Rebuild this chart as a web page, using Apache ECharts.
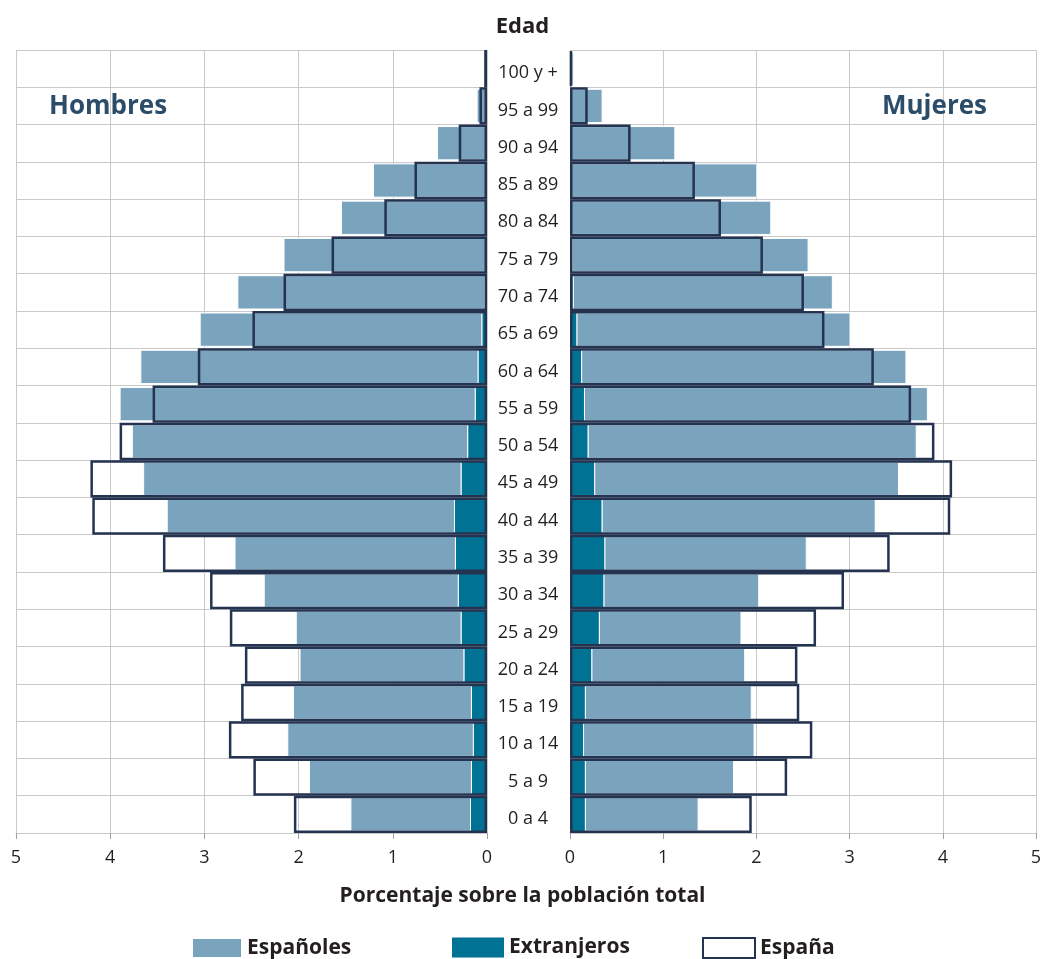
<!DOCTYPE html>
<html><head><meta charset="utf-8">
<script src="https://cdn.jsdelivr.net/npm/echarts@6/dist/echarts.min.js"></script>
<style>html,body{margin:0;padding:0;background:#fff}#c{width:1045px;height:959px}</style>
</head><body><div id="c"></div>
<script>
const ages = ['0 a 4','5 a 9','10 a 14','15 a 19','20 a 24','25 a 29','30 a 34','35 a 39','40 a 44','45 a 49','50 a 54','55 a 59','60 a 64','65 a 69','70 a 74','75 a 79','80 a 84','85 a 89','90 a 94','95 a 99','100 y +'];
// Hombres
const menForeign = [0.17,0.16,0.14,0.16,0.24,0.27,0.30,0.33,0.34,0.27,0.20,0.12,0.09,0.05,0.02,0.01,0.01,0.01,0,0,0];
const menSpanish = [1.28,1.73,1.98,1.90,1.75,1.76,2.07,2.35,3.06,3.38,3.57,3.78,3.59,3.00,2.63,2.15,1.54,1.20,0.53,0.11,0.02];
const menSpain   = [2.05,2.48,2.74,2.61,2.57,2.73,2.94,3.44,4.19,4.21,3.90,3.55,3.07,2.49,2.16,1.65,1.09,0.77,0.30,0.08,0.03];
// Mujeres
const womenForeign = [0.16,0.16,0.14,0.16,0.23,0.31,0.36,0.37,0.34,0.26,0.19,0.15,0.12,0.07,0.03,0.02,0.01,0.01,0,0,0];
const womenSpanish = [1.22,1.60,1.84,1.79,1.65,1.53,1.67,2.17,2.94,3.27,3.53,3.69,3.49,2.94,2.79,2.54,2.15,2.00,1.13,0.35,0.04];
const womenSpain   = [1.95,2.33,2.60,2.46,2.44,2.64,2.94,3.43,4.08,4.10,3.91,3.66,3.26,2.73,2.51,2.07,1.62,1.34,0.65,0.19,0.02];

const FONT = 'Open Sans';
const C_ESP = '#7aa3be', C_EXT = '#007395', C_OUT = '#243350', C_GRID = '#c9c9c9', C_TXT = '#231f20';

const chart = echarts.init(document.getElementById('c'), null, {renderer:'canvas'});
const valueAxis = (gi, inverse) => ({
  type:'value', gridIndex:gi, min:0, max:5, interval:1, inverse:inverse,
  axisLine:{show:true, lineStyle:{color:C_GRID}},
  axisTick:{show:true, length:6, lineStyle:{color:'#a0a0a0'}},
  axisLabel:{fontFamily:FONT, fontSize:18, color:C_TXT, margin:16},
  splitLine:{show:true, lineStyle:{color:C_GRID, width:1}}
});
const catAxis = (gi, showLabel) => ({
  type:'category', gridIndex:gi, data:ages, position:'left',
  axisLine:{show:false}, axisTick:{show:false},
  axisLabel:{show:showLabel, align:'center', margin:42,
    formatter:(v) => '{a|' + v + '}',
    rich:{a:{fontFamily:FONT, fontSize:18, color:C_TXT, padding:[9,0,0,0]}}},
  splitLine:{show:true, lineStyle:{color:C_GRID, width:1}}
});
const hidCat = (gi) => ({type:'category', gridIndex:gi, data:ages, show:false});
const legendText = {fontFamily:FONT, fontSize:21, fontWeight:'bold', color:C_TXT};

const option = {
  animation:false,
  textStyle:{fontFamily:FONT},
  grid:[
    {left:16, width:471, top:50, bottom:126, containLabel:false},
    {left:570, width:466, top:50, bottom:126, containLabel:false}
  ],
  xAxis:[valueAxis(0,true), valueAxis(1,false)],
  yAxis:[catAxis(0,false), hidCat(0), catAxis(1,true), hidCat(1)],
  title:[
    {text:'Edad', left:'center', top:16, padding:0, textStyle:{fontFamily:FONT, fontSize:22, fontWeight:'bold', color:C_TXT}},
    {text:'Hombres', left:49, top:94, padding:0, textStyle:{fontFamily:FONT, fontSize:26, fontWeight:'bold', color:'#2c4d69'}},
    {text:'Mujeres', right:58, top:94, padding:0, textStyle:{fontFamily:FONT, fontSize:26, fontWeight:'bold', color:'#2c4d69'}},
    {text:'Porcentaje sobre la población total', left:'center', top:886, padding:0, textStyle:{fontFamily:FONT, fontSize:21, fontWeight:'bold', color:C_TXT}}
  ],
  legend:[
    {data:['Españoles'], left:191, top:937, padding:0, icon:'rect', itemWidth:50, itemHeight:20, itemGap:8, textStyle:legendText, selectedMode:false},
    {data:['Extranjeros'], left:452, top:937, padding:0, icon:'rect', itemWidth:52, itemHeight:20, textStyle:legendText, selectedMode:false},
    {data:[{name:'España', itemStyle:{color:'#fff', borderColor:C_OUT, borderWidth:2}}], left:702, top:937, padding:0, icon:'rect', itemWidth:52, itemHeight:20, textStyle:legendText, selectedMode:false}
  ],
  series:[
    {name:'Extranjeros', type:'bar', xAxisIndex:0, yAxisIndex:0, stack:'m', data:menForeign, barWidth:'92%', itemStyle:{color:C_EXT}, z:2},
    {name:'Españoles', type:'bar', xAxisIndex:0, yAxisIndex:0, stack:'m', data:menSpanish, barWidth:'92%', itemStyle:{color:C_ESP, borderColor:'#fff', borderWidth:1}, z:2},
    {name:'España', type:'bar', xAxisIndex:0, yAxisIndex:1, data:menSpain, barWidth:'100%', itemStyle:{color:'rgba(0,0,0,0)', borderColor:C_OUT, borderWidth:2.5}, z:3},
    {name:'Extranjeros', type:'bar', xAxisIndex:1, yAxisIndex:2, stack:'w', data:womenForeign, barWidth:'92%', itemStyle:{color:C_EXT}, z:2},
    {name:'Españoles', type:'bar', xAxisIndex:1, yAxisIndex:2, stack:'w', data:womenSpanish, barWidth:'92%', itemStyle:{color:C_ESP, borderColor:'#fff', borderWidth:1}, z:2},
    {name:'España', type:'bar', xAxisIndex:1, yAxisIndex:3, data:womenSpain, barWidth:'100%', itemStyle:{color:'rgba(0,0,0,0)', borderColor:C_OUT, borderWidth:2.5}, z:3}
  ]
};
chart.setOption(option);
</script></body></html>
